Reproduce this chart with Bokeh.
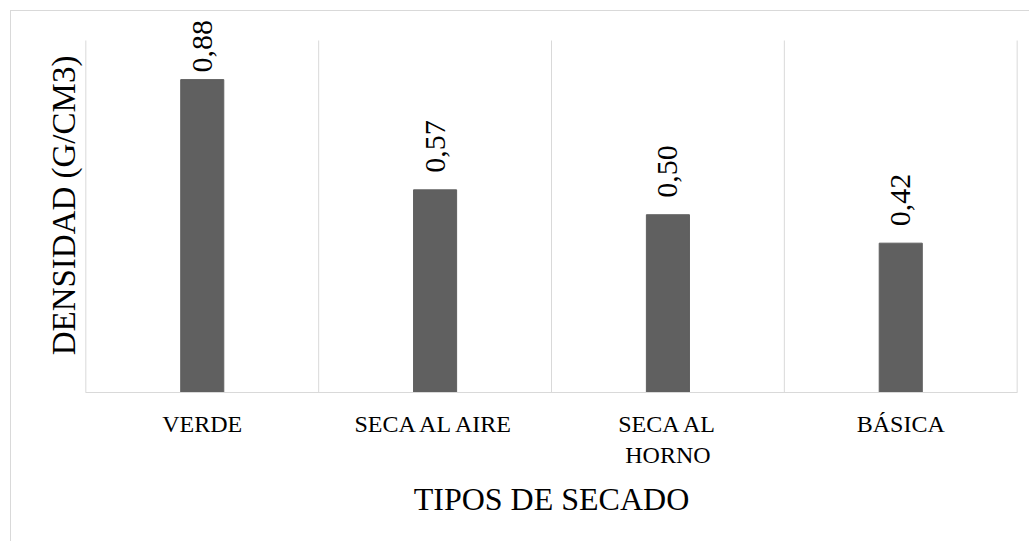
import math
from bokeh.plotting import figure
from bokeh.models import ColumnDataSource, FixedTicker, Range1d, Label
from bokeh.embed import file_html
from bokeh.resources import INLINE

categories = ["VERDE", "SECA AL AIRE", "SECA AL\nHORNO", "BÁSICA"]
values = [0.88, 0.57, 0.50, 0.42]
value_labels = ["0,88", "0,57", "0,50", "0,42"]
x_title = "TIPOS DE SECADO"
y_title = "DENSIDAD (G/CM3)"

FONT = "Liberation Serif"
GRID = "#d9d9d9"
BAR = "#606060"

Y_TOP = 0.99          # top of the plot area (separators end here)
PLOT_AREA_H = 352     # px from baseline to Y_TOP
FRAME_H = 374         # frame extends higher so that labels are not clipped
scale = PLOT_AREA_H / Y_TOP
Y_END = FRAME_H / scale

n = len(categories)
x_pos = [i + 0.5 for i in range(n)]
bounds = list(range(n + 1))

src = ColumnDataSource(dict(x=x_pos, top=values))
sep = ColumnDataSource(dict(x=bounds, y0=[0] * len(bounds), y1=[Y_TOP] * len(bounds)))

p = figure(width=1019, height=531, output_backend="svg", toolbar_location=None,
           x_range=Range1d(-0.01, n + 0.01), y_range=Range1d(0, Y_END),
           min_border_left=72, min_border_right=11, min_border_top=7, min_border_bottom=150)
p.margin = (10, 0, 0, 10)
p.styles = {"border-left": "1px solid #d9d9d9", "border-top": "1px solid #d9d9d9"}
p.outline_line_color = None
p.background_fill_color = "white"
p.border_fill_color = "white"
p.grid.visible = False

p.segment(x0="x", y0="y0", x1="x", y1="y1", source=sep, line_color=GRID, line_width=1)
p.vbar(x="x", top="top", width=0.185, source=src, color=BAR)

for xv, v, lab in zip(x_pos, values, value_labels):
    gap_above = (Y_TOP - v) * scale
    off = min(17, gap_above + 20 - 52)
    p.add_layout(Label(x=xv, y=v, text=lab, angle=math.pi / 2, y_offset=off,
                       text_align="left", text_baseline="middle",
                       text_font=FONT, text_font_size="30px", text_color="black"))

p.xaxis.ticker = FixedTicker(ticks=x_pos)
p.xaxis.major_label_overrides = {x: c for x, c in zip(x_pos, categories)}
p.xaxis.axis_line_color = GRID
p.xaxis.bounds = (0, n)
p.xaxis.major_tick_line_color = None
p.xaxis.minor_tick_line_color = None
p.xaxis.major_tick_out = 0
p.xaxis.major_tick_in = 0
p.xaxis.major_label_standoff = 18
p.xaxis.major_label_text_font = FONT
p.xaxis.major_label_text_font_size = "24px"
p.xaxis.major_label_text_color = "black"
p.xaxis.axis_label = x_title
p.xaxis.axis_label_text_font = FONT
p.xaxis.axis_label_text_font_size = "32px"
p.xaxis.axis_label_text_font_style = "normal"
p.xaxis.axis_label_text_color = "black"
p.xaxis.axis_label_standoff = 10

p.yaxis.ticker = FixedTicker(ticks=[])
p.yaxis.axis_line_color = None
p.yaxis.major_tick_line_color = None
p.yaxis.minor_tick_line_color = None
p.yaxis.major_tick_out = 0
p.yaxis.major_tick_in = 0
p.yaxis.major_label_standoff = 0
p.yaxis.axis_label = y_title
p.yaxis.axis_label_text_font = FONT
p.yaxis.axis_label_text_font_size = "33px"
p.yaxis.axis_label_text_font_style = "normal"
p.yaxis.axis_label_text_color = "black"
p.yaxis.axis_label_standoff = 2

open("out.html", "w").write(file_html(p, INLINE))
